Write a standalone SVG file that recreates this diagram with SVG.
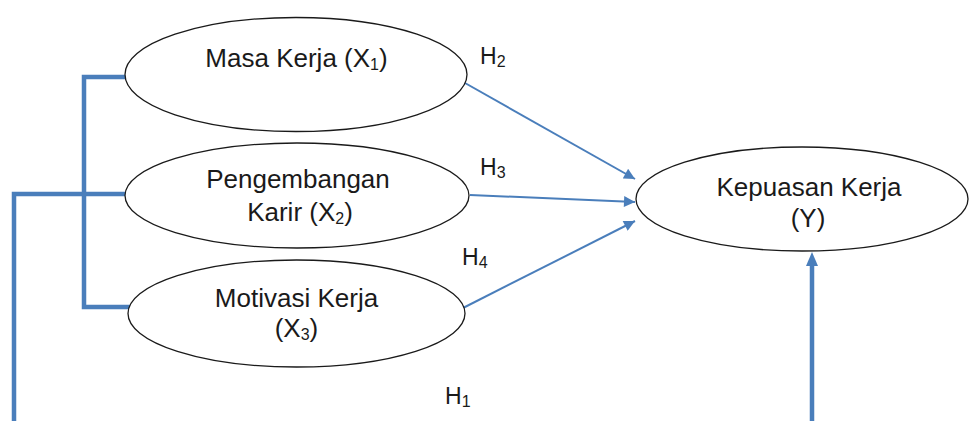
<svg xmlns="http://www.w3.org/2000/svg" width="970" height="421" viewBox="0 0 970 421">
<defs>
<style>
.node{fill:#fff;stroke:#1a1a1a;stroke-width:1.3}
.t{font-family:"Liberation Sans",Arial,sans-serif;font-size:26px;fill:#1a1a1a;text-anchor:middle}
.h{font-family:"Liberation Sans",Arial,sans-serif;font-size:23px;fill:#1a1a1a}
.sub{font-size:16px}
.thick{fill:none;stroke:#4a7ebb;stroke-width:4.5}
.thin{fill:none;stroke:#4a7ebb;stroke-width:2}
</style>
<marker id="ah" viewBox="0 0 10 10" refX="10" refY="5" markerWidth="12" markerHeight="11" markerUnits="userSpaceOnUse" orient="auto">
<path d="M0,0 L10,5 L0,10 z" fill="#4a7ebb"/>
</marker>
</defs>
<rect width="970" height="421" fill="#fff"/>
<g id="connectors">
<path class="thick" d="M128,77 H84 V307 H130"/>
<path class="thick" d="M125,194 H14 V430"/>
<path class="thick" d="M812,430 V265"/>
<path d="M812,252 L806,266 L818,266 z" fill="#4a7ebb"/>
<path class="thin" d="M465,83 L635,179" marker-end="url(#ah)"/>
<path class="thin" d="M470,195 L635,202" marker-end="url(#ah)"/>
<path class="thin" d="M463,308 L635,221" marker-end="url(#ah)"/>
</g>
<g id="x1">
<ellipse class="node" cx="296" cy="74.5" rx="171" ry="57"/>
<text class="t" x="296.5" y="67">Masa Kerja (X<tspan class="sub" dy="3">1</tspan><tspan dy="-3">)</tspan></text>
</g>
<g id="x2">
<ellipse class="node" cx="297" cy="195.5" rx="172" ry="52.5"/>
<text class="t" x="298" y="188">Pengembangan</text>
<text class="t" x="300" y="221">Karir (X<tspan class="sub" dy="3">2</tspan><tspan dy="-3">)</tspan></text>
</g>
<g id="x3">
<ellipse class="node" cx="296.5" cy="313.5" rx="168.5" ry="53.5"/>
<text class="t" x="296.5" y="307">Motivasi Kerja</text>
<text class="t" x="296.5" y="337">(X<tspan class="sub" dy="3">3</tspan><tspan dy="-3">)</tspan></text>
</g>
<g id="y">
<ellipse class="node" cx="802" cy="199" rx="166" ry="52"/>
<text class="t" x="809" y="196">Kepuasan Kerja</text>
<text class="t" x="808" y="227">(Y)</text>
</g>
<g id="labels">
<text class="h" x="480" y="64">H<tspan class="sub" dy="3">2</tspan></text>
<text class="h" x="480" y="175">H<tspan class="sub" dy="3">3</tspan></text>
<text class="h" x="462" y="265">H<tspan class="sub" dy="3">4</tspan></text>
<text class="h" x="445" y="404">H<tspan class="sub" dy="3">1</tspan></text>
</g>
</svg>
